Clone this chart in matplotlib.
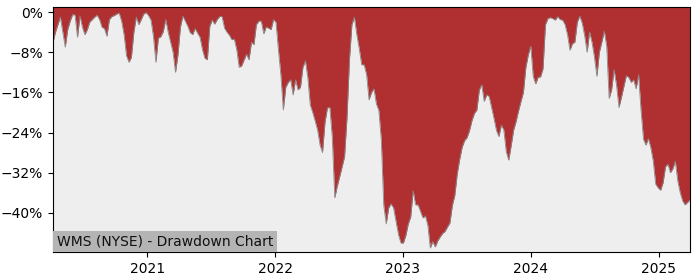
import numpy as np
import pandas as pd
import matplotlib
matplotlib.use("Agg")
import matplotlib.pyplot as plt
import matplotlib.dates as mdates
from matplotlib.ticker import FuncFormatter

# weekly drawdown (%), one list per year
dd_2020 = [-6.0, -4.0, -2.5, -1.0, -4.0, -7.0, -3.5, -1.8, -0.5, -0.6,
           -5.0, -0.8, -3.0, -4.5, -3.5, -2.0, -1.5, -1.0, -0.6, -1.5,
           -3.0, -3.3, -4.8, -1.5, -0.9, -0.7, -0.4, -0.2, -1.8, -4.5,
           -8.7, -10.0, -9.0, -4.0, -1.0, -2.5, -1.5, -0.4, -0.1]
dd_2021 = [-0.7, -1.6, -4.9, -10.0, -5.2, -4.9, -3.9, -1.5, -4.0, -6.0,
           -8.0, -12.0, -8.5, -3.0, -0.8, -1.8, -2.8, -4.1, -4.5, -3.3,
           -4.2, -5.0, -7.5, -9.2, -9.5, -2.8, -1.6, -2.4, -1.5, -0.9,
           -0.9, -3.2, -4.0, -4.6, -5.5, -5.4, -7.5, -11.0, -10.7, -9.5,
           -8.4, -9.5, -6.0, -6.5, -2.5, -1.8, -1.8, -4.3, -3.0, -3.2,
           -3.5, -1.5]
dd_2022 = [-2.0, -7.5, -12.5, -19.5, -15.0, -14.0, -13.5, -16.5, -13.5, -15.5,
           -15.0, -11.0, -9.7, -13.0, -18.5, -20.0, -21.7, -23.5, -26.5, -28.0,
           -22.0, -19.1, -19.0, -25.0, -37.0, -34.7, -32.8, -30.8, -28.8, -21.0,
           -9.5, -2.5, -1.0, -4.5, -7.3, -10.5, -10.5, -12.5, -17.5, -16.0,
           -15.3, -18.3, -19.6, -25.5, -38.5, -42.2, -39.0, -38.2, -39.0, -41.7,
           -44.3, -46.0]
dd_2023 = [-46.0, -44.5, -42.2, -40.8, -35.6, -38.4, -38.4, -39.7, -41.0, -40.6,
           -42.5, -47.0, -45.7, -46.8, -45.6, -44.8, -44.1, -43.7, -42.8, -42.0,
           -38.5, -36.5, -32.2, -29.3, -26.9, -25.6, -25.0, -23.6, -21.6, -20.2,
           -19.5, -15.5, -14.5, -17.8, -16.5, -16.8, -19.0, -21.2, -23.6, -24.8,
           -22.5, -23.5, -27.8, -29.5, -26.6, -23.5, -21.8, -19.7, -17.8, -16.0,
           -11.0, -8.5]
dd_2024 = [-6.8, -12.8, -14.3, -13.0, -12.9, -11.3, -2.5, -1.3, -1.1, -1.3,
           -1.6, -0.9, -1.5, -1.6, -2.5, -4.5, -7.6, -6.3, -6.0, -2.0,
           -0.8, -2.2, -4.7, -8.0, -4.0, -6.0, -9.0, -12.8, -8.0, -6.0,
           -3.8, -6.8, -17.2, -15.5, -11.5, -14.5, -19.0, -17.0, -14.8, -12.7,
           -13.0, -14.0, -13.5, -15.3, -12.5, -19.5, -25.3, -26.5, -25.2, -27.0,
           -29.7, -34.3, -35.0]
dd_2025 = [-35.5, -34.0, -30.8, -30.3, -32.0, -31.2, -29.7, -33.6, -36.0, -37.6,
           -38.4, -37.9, -37.4]

drawdown = np.array(dd_2020 + dd_2021 + dd_2022 + dd_2023 + dd_2024 + dd_2025)
dates = pd.date_range("2020-04-06", periods=len(drawdown), freq="W-MON")

ticker_label = "WMS (NYSE) - Drawdown Chart"
yticks = [0, -8, -16, -24, -32, -40]

fig = plt.figure(figsize=(7, 2.8), dpi=100)
ax = fig.add_axes([0.0757, 0.1, 0.91, 0.875])
ax.set_facecolor("#eeeeee")

top = 1.0
ax.fill_between(dates, drawdown, top, color="#b03031", linewidth=0)
ax.plot(dates, drawdown, color="#888888", linewidth=0.6)

ax.set_xlim(dates[0], dates[-1])
ax.set_ylim(-47.8, top)
ax.set_yticks(yticks)
ax.yaxis.set_major_formatter(FuncFormatter(lambda v, p: f"{v:.0f}%".replace("-", "\u2212")))
ax.xaxis.set_major_locator(mdates.YearLocator())
ax.xaxis.set_major_formatter(mdates.DateFormatter("%Y"))

ax.annotate(ticker_label, xy=(0, 0), xycoords="axes fraction",
            xytext=(2.6, 2.6), textcoords="offset points",
            ha="left", va="bottom", fontsize=10, color="#111111",
            bbox=dict(facecolor="#b4b4b4", edgecolor="none", pad=2.6))

fig.savefig("out.png", dpi=100)
